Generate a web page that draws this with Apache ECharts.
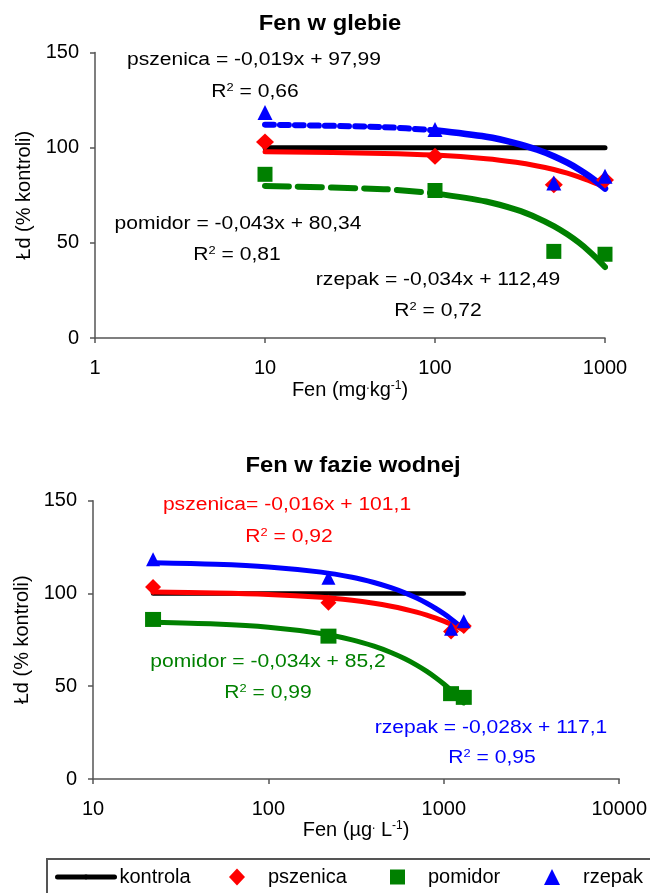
<!DOCTYPE html>
<html>
<head>
<meta charset="utf-8">
<script src="https://cdn.jsdelivr.net/npm/echarts@6/dist/echarts.min.js"></script>
<style>
html,body{margin:0;padding:0;background:#fff;}
#chart{width:650px;height:893px;}
</style>
</head>
<body>
<div id="chart"></div>
<script>
// ---------- data ----------
// top chart: Fen w glebie (mg/kg)
const soilX = [10, 100, 500, 1000];
const soilPszenica = [103, 95.5, 80.5, 83];
const soilPomidor = [86, 77.5, 45.5, 44];
const soilRzepak = [118.5, 109.5, 81.5, 85];
const soilKontrolaX = [10, 1000];
const kontrolaY = [100, 100];
// trend curves
const soilTrendX = [10, 50, 100, 200, 300, 400, 500, 600, 700, 800, 900, 1000];
const soilTrendPszenica = [97.8, 97.0, 96.1, 94.2, 92.3, 90.4, 88.5, 86.6, 84.7, 82.8, 80.9, 79.0];
const soilTrendPomidor = [79.9, 78.2, 76.0, 71.7, 67.4, 63.1, 58.8, 54.5, 50.2, 45.9, 41.6, 37.3];
const soilTrendRzepak = [112.1, 110.8, 109.1, 105.7, 102.3, 98.9, 95.5, 92.1, 88.7, 85.3, 81.9, 78.5];

// bottom chart: Fen w fazie wodnej (ug/L)
const waterX = [22, 220, 1100, 1300];
const waterPszenica = [103.5, 95, 79.5, 82.5];
const waterPomidor = [86, 77, 46, 44];
const waterRzepak = [118.5, 108.5, 81, 85];
const waterKontrolaX = [22, 1300];
const waterTrendX = [22, 50, 100, 200, 300, 400, 500, 600, 700, 800, 900, 1000, 1100, 1200, 1300];
const waterTrendPszenica = [100.75, 100.3, 99.5, 97.9, 96.3, 94.7, 93.1, 91.5, 89.9, 88.3, 86.7, 85.1, 83.5, 81.9, 80.3];
const waterTrendPomidor = [84.45, 83.5, 81.8, 78.4, 75.0, 71.6, 68.2, 64.8, 61.4, 58.0, 54.6, 51.2, 47.8, 44.4, 41.0];
const waterTrendRzepak = [116.5, 115.7, 114.3, 111.5, 108.7, 105.9, 103.1, 100.3, 97.5, 94.7, 91.9, 89.1, 86.3, 83.5, 80.7];

const yTicks = [0, 50, 100, 150];

const titles = ['Fen w glebie', 'Fen w fazie wodnej'];
const yName = 'Łd (% kontroli)';
const legendNames = ['kontrola', 'pszenica', 'pomidor', 'rzepak'];

const soilEq = [
  ['pszenica = -0,019x + 97,99', 'R{sup|2} = 0,66'],
  ['pomidor = -0,043x + 80,34', 'R{sup|2} = 0,81'],
  ['rzepak = -0,034x + 112,49', 'R{sup|2} = 0,72']
];
const waterEq = [
  ['pszenica= -0,016x + 101,1', 'R{sup|2} = 0,92'],
  ['pomidor = -0,034x + 85,2', 'R{sup|2} = 0,99'],
  ['rzepak = -0,028x + 117,1', 'R{sup|2} = 0,95']
];

// ---------- helpers ----------
const RED = '#ff0000', GREEN = '#008000', BLUE = '#0000ff', BLACK = '#000000';
const FONT = '"Liberation Sans", Arial, sans-serif';
const zip = (xs, ys) => xs.map((x, i) => [x, ys[i]]);
const sliceUpTo = (xs, ys, lim) => zip(xs, ys).filter(p => p[0] <= lim);
const sliceFrom = (xs, ys, lim) => zip(xs, ys).filter(p => p[0] >= lim);

const supRich = { sup: { fontSize: 12, fontFamily: FONT, padding: [0, 0, 9, 0], verticalAlign: 'bottom' } };

function eqText(x, y, str, color) {
  return {
    type: 'text', x: x, y: y, scaleX: 1.17, z: 100,
    style: {
      text: str, fill: color, align: 'center', verticalAlign: 'middle',
      fontSize: 18, fontFamily: FONT,
      rich: { sup: { fontSize: 11, fontFamily: FONT, fill: color, padding: [0, 0, 8, 0], verticalAlign: 'bottom' } }
    }
  };
}
function titleText(x, y, str) {
  return {
    type: 'text', x: x, y: y, scaleX: 1.08, z: 100,
    style: { text: str, fill: '#000', align: 'center', verticalAlign: 'middle',
      fontSize: 22, fontWeight: 'bold', fontFamily: FONT }
  };
}

const axisLineStyle = { color: '#555', width: 1.5 };
function xAxisCfg(grid, min, max, name, nameGap) {
  return {
    gridIndex: grid, type: 'log', logBase: 10, min: min, max: max,
    axisLine: { lineStyle: axisLineStyle },
    axisTick: { show: true, length: 5, lineStyle: axisLineStyle },
    axisLabel: { color: '#000', fontSize: 20, fontFamily: FONT, margin: 20,
      formatter: v => String(Math.round(v)) },
    splitLine: { show: false }, minorTick: { show: false },
    name: name, nameLocation: 'middle', nameGap: nameGap,
    nameTextStyle: { color: '#000', fontSize: 20, fontFamily: FONT, rich: supRich }
  };
}
function yAxisCfg(grid, nameGap) {
  return {
    gridIndex: grid, type: 'value', min: yTicks[0], max: yTicks[yTicks.length - 1], interval: 50,
    axisLine: { show: true, lineStyle: axisLineStyle },
    axisTick: { show: true, length: 5, lineStyle: axisLineStyle },
    axisLabel: { color: '#000', fontSize: 20, fontFamily: FONT, margin: 16 },
    splitLine: { show: false },
    name: yName, nameLocation: 'middle', nameGap: nameGap, nameRotate: 90,
    nameTextStyle: { color: '#000', fontSize: 20, fontFamily: FONT }
  };
}
function lineS(name, data, g, color, width, dash, z) {
  return {
    name: name, type: 'line', xAxisIndex: g, yAxisIndex: g, data: data,
    symbol: 'none', smooth: 0.3, silent: true, z: z || 2,
    lineStyle: { color: color, width: width, type: dash || 'solid', cap: 'round', join: 'round' },
    itemStyle: { color: color }
  };
}
function scatterS(name, data, g, color, symbol, size) {
  return {
    name: name, type: 'scatter', xAxisIndex: g, yAxisIndex: g, data: data,
    symbol: symbol, symbolSize: size, z: 5,
    itemStyle: { color: color, opacity: 1 }
  };
}

const series = [
  // top chart
  lineS('kontrola', zip(soilKontrolaX, kontrolaY), 0, BLACK, 5, 'solid', 2),
  lineS('t1', zip(soilTrendX, soilTrendPszenica), 0, RED, 5, 'solid', 3),
  lineS('t2a', sliceUpTo(soilTrendX, soilTrendPomidor, 100), 0, GREEN, 6, [24, 9], 3),
  lineS('t2b', sliceFrom(soilTrendX, soilTrendPomidor, 100), 0, GREEN, 6, 'solid', 3),
  lineS('t3a', sliceUpTo(soilTrendX, soilTrendRzepak, 100), 0, BLUE, 6, [9, 6], 4),
  lineS('t3b', sliceFrom(soilTrendX, soilTrendRzepak, 100), 0, BLUE, 6.5, 'solid', 4),
  scatterS('pszenica', zip(soilX, soilPszenica), 0, RED, 'diamond', [18, 17]),
  scatterS('pomidor', zip(soilX, soilPomidor), 0, GREEN, 'rect', [15, 15]),
  scatterS('rzepak', zip(soilX, soilRzepak), 0, BLUE, 'triangle', [15, 15]),
  // bottom chart
  lineS('kontrola', zip(waterKontrolaX, kontrolaY), 1, BLACK, 4.5, 'solid', 2),
  lineS('w1', zip(waterTrendX, waterTrendPszenica), 1, RED, 5, 'solid', 3),
  lineS('w2', zip(waterTrendX, waterTrendPomidor), 1, GREEN, 5, 'solid', 3),
  lineS('w3', zip(waterTrendX, waterTrendRzepak), 1, BLUE, 5, 'solid', 4),
  scatterS('pszenica', zip(waterX, waterPszenica), 1, RED, 'diamond', [16, 16]),
  scatterS('pomidor', zip(waterX, waterPomidor), 1, GREEN, 'rect', [16, 15]),
  scatterS('rzepak', zip(waterX, waterRzepak), 1, BLUE, 'triangle', [14, 14])
];

const legendText = { color: '#000', fontSize: 20, fontFamily: FONT };
function legendCfg(name, left, w, h, pad) {
  return {
    data: [name], left: left, top: 867, itemWidth: w, itemHeight: h,
    selectedMode: false, padding: 0,
    textStyle: Object.assign({ padding: [0, 0, 0, pad] }, legendText)
  };
}

const option = {
  animation: false,
  backgroundColor: '#fff',
  grid: [
    { left: 95, top: 52.5, width: 510, height: 285.5 },
    { left: 93, top: 500.7, width: 527.3, height: 278.3 }
  ],
  xAxis: [
    xAxisCfg(0, 1, 1000, 'Fen (mg{sup|.}kg{sup|-1})', 42),
    xAxisCfg(1, 10, 10000, 'Fen (µg{sup|.} L{sup|-1})', 39)
  ],
  yAxis: [yAxisCfg(0, 61), yAxisCfg(1, 54)],
  legend: [
    Object.assign(legendCfg(legendNames[0], 55, 57, 6, 0), { lineStyle: { width: 5, cap: 'round' } }),
    legendCfg(legendNames[1], 229, 16, 17, 18),
    legendCfg(legendNames[2], 390, 15, 15, 18),
    legendCfg(legendNames[3], 544, 16, 16, 18)
  ],
  series: series,
  graphic: [
    titleText(330, 24, titles[0]),
    titleText(353, 466, titles[1]),
    eqText(254, 60, soilEq[0][0], BLACK),
    eqText(255, 92, soilEq[0][1], BLACK),
    eqText(238, 224, soilEq[1][0], BLACK),
    eqText(237, 255, soilEq[1][1], BLACK),
    eqText(438, 280, soilEq[2][0], BLACK),
    eqText(438, 311, soilEq[2][1], BLACK),
    eqText(287, 505, waterEq[0][0], RED),
    eqText(289, 537, waterEq[0][1], RED),
    eqText(268, 662, waterEq[1][0], GREEN),
    eqText(268, 693, waterEq[1][1], GREEN),
    eqText(491, 728, waterEq[2][0], BLUE),
    eqText(492, 758, waterEq[2][1], BLUE),
    {
      type: 'rect', z: 0, silent: true,
      shape: { x: 47, y: 859, width: 640, height: 60 },
      style: { fill: 'none', stroke: '#555', lineWidth: 2 }
    }
  ]
};

const chart = echarts.init(document.getElementById('chart'), null, { renderer: 'canvas' });
chart.setOption(option);
</script>
</body>
</html>
